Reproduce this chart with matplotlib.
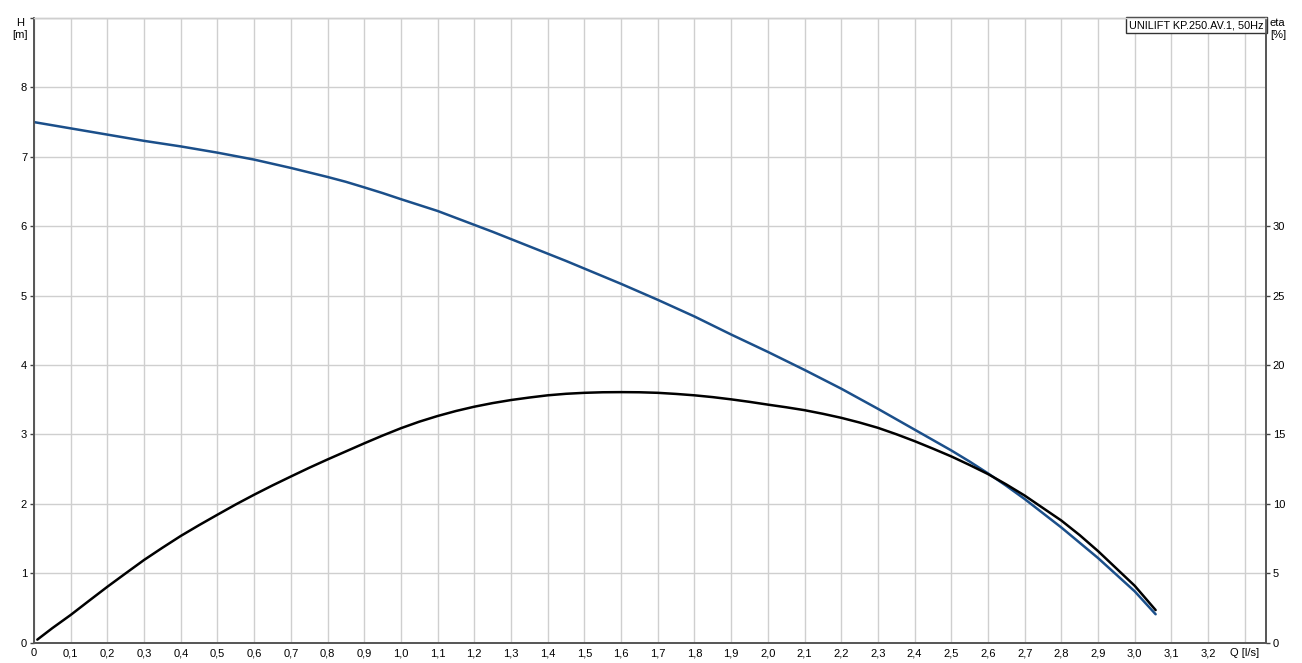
import numpy as np
import matplotlib.pyplot as plt

plt.rcParams['font.family'] = ['Liberation Sans', 'DejaVu Sans']

# Flow rate Q [l/s], head H [m]
q_h = [0.0, 0.05, 0.1, 0.15, 0.2, 0.25, 0.3, 0.35, 0.4, 0.45, 0.5, 0.55, 0.6, 0.65, 0.7, 0.75,
       0.8, 0.85, 0.9, 0.95, 1.0, 1.05, 1.1, 1.15, 1.2, 1.25, 1.3, 1.35, 1.4, 1.45, 1.5, 1.55,
       1.6, 1.65, 1.7, 1.75, 1.8, 1.85, 1.9, 1.95, 2.0, 2.05, 2.1, 2.15, 2.2, 2.25, 2.3, 2.35,
       2.4, 2.45, 2.5, 2.55, 2.6, 2.65, 2.7, 2.75, 2.8, 2.85, 2.9, 2.95, 3.0, 3.057]
head = [7.50, 7.455, 7.41, 7.365, 7.32, 7.275, 7.23, 7.19, 7.15, 7.105, 7.06, 7.01, 6.96, 6.90,
        6.84, 6.775, 6.71, 6.64, 6.56, 6.478, 6.39, 6.305, 6.22, 6.12, 6.02, 5.92, 5.815, 5.71,
        5.605, 5.50, 5.39, 5.28, 5.17, 5.055, 4.94, 4.82, 4.70, 4.57, 4.44, 4.315, 4.19, 4.06,
        3.93, 3.795, 3.66, 3.515, 3.37, 3.22, 3.07, 2.92, 2.77, 2.61, 2.44, 2.26, 2.07, 1.865,
        1.66, 1.44, 1.22, 0.98, 0.74, 0.41]

# Flow rate Q [l/s], efficiency eta [%]
q_eta = [0.009, 0.05, 0.1, 0.15, 0.2, 0.25, 0.3, 0.35, 0.4, 0.45, 0.5, 0.55, 0.6, 0.65, 0.7,
         0.75, 0.8, 0.85, 0.9, 0.95, 1.0, 1.05, 1.1, 1.15, 1.2, 1.25, 1.3, 1.35, 1.4, 1.45, 1.5,
         1.55, 1.6, 1.65, 1.7, 1.75, 1.8, 1.85, 1.9, 1.95, 2.0, 2.05, 2.1, 2.15, 2.2, 2.25, 2.3,
         2.35, 2.4, 2.45, 2.5, 2.55, 2.6, 2.65, 2.7, 2.75, 2.8, 2.85, 2.9, 2.95, 3.0, 3.057]
eta = [0.22, 1.05, 2.0, 3.02, 4.03, 5.0, 5.96, 6.84, 7.69, 8.47, 9.22, 9.96, 10.66, 11.33, 11.97,
       12.6, 13.2, 13.78, 14.36, 14.92, 15.45, 15.92, 16.33, 16.69, 17.0, 17.26, 17.48, 17.66,
       17.82, 17.93, 18.0, 18.04, 18.05, 18.04, 18.0, 17.92, 17.82, 17.69, 17.53, 17.35, 17.15,
       16.96, 16.75, 16.49, 16.2, 15.86, 15.48, 15.02, 14.52, 13.98, 13.42, 12.8, 12.15, 11.4,
       10.6, 9.7, 8.8, 7.75, 6.6, 5.35, 4.1, 2.35]

x_ticks = [round(0.1 * i, 1) for i in range(34)]
x_labels = [f"{v:.1f}".replace('.', ',') if v > 0 else "0" for v in x_ticks[:-1]] + ["Q [l/s]"]
h_ticks = [0, 1, 2, 3, 4, 5, 6, 7, 8]
eta_ticks = [0, 5, 10, 15, 20, 25, 30]

fig = plt.figure(figsize=(13.02, 6.63), dpi=100)
ax = fig.add_axes([34 / 1302, 1 - 642.7 / 663, (1265.7 - 34) / 1302, (642.7 - 18) / 663])
ax2 = ax.twinx()

ax.set_xlim(0, 3.357)
ax.set_ylim(0, 9)
ax2.set_ylim(0, 45)

ax.set_xticks(x_ticks)
ax.set_xticklabels(x_labels)
ax.set_yticks(list(range(10)))
ax.set_yticklabels([str(v) for v in h_ticks] + [""])
ax2.set_yticks(eta_ticks)

grid_c = '#cfcfcf'
ax.grid(True, color=grid_c, linewidth=1.0)
ax.set_axisbelow(True)

for a in (ax, ax2):
    a.tick_params(labelsize=8, length=3, width=1, color='#444444', pad=2)
    for s in a.spines.values():
        s.set_color('#555555')
        s.set_linewidth(1.2)
    a.spines['top'].set_color(grid_c)
    a.spines['top'].set_linewidth(1.0)
ax.tick_params(axis='x', length=0, pad=4)

ax.plot(q_h, head, color='#1b4f8a', linewidth=1.8, zorder=3,
        solid_joinstyle='round', solid_capstyle='round')
ax2.plot(q_eta, eta, color='#000000', linewidth=1.8, zorder=3,
         solid_joinstyle='round', solid_capstyle='round')

fig.text(20 / 1302, 1 - 29 / 663, "H\n[m]", ha='center', va='center', fontsize=8, linespacing=1.25)
fig.text(1270 / 1302, 1 - 29 / 663, "eta\n[%]", ha='left', va='center', fontsize=8, linespacing=1.25)

ax.text(0.9985, 0.9965, "UNILIFT KP.250.AV.1, 50Hz", transform=ax.transAxes, ha='right', va='top',
        fontsize=7.8, zorder=5,
        bbox=dict(boxstyle='square,pad=0.28', facecolor='white', edgecolor='#333333', linewidth=1))

fig.savefig('out.png', dpi=100)
